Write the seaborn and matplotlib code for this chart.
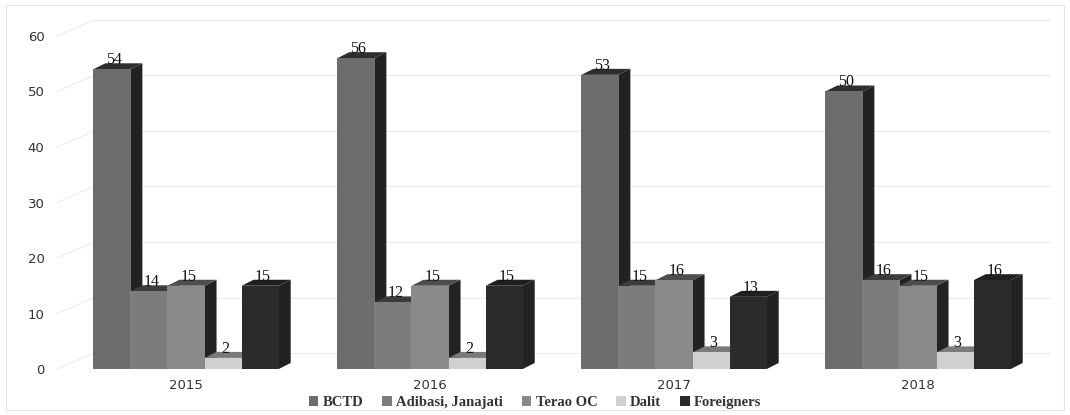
import numpy as np
import pandas as pd
import seaborn as sns
import matplotlib.pyplot as plt
from matplotlib.patches import Polygon, Rectangle

years = ['2015', '2016', '2017', '2018']
groups = ['BCTD', 'Adibasi, Janajati', 'Terao OC', 'Dalit', 'Foreigners']
bctd = [54, 56, 53, 50]
adibasi = [14, 12, 15, 16]
terao = [15, 15, 16, 15]
dalit = [2, 2, 3, 3]
foreigners = [15, 15, 13, 16]

front_colors = ['#6d6d6f', '#7c7c7e', '#898a8c', '#d0d0d0', '#2b2b2d']
top_colors = ['#2e2e2e', '#3c3c3c', '#4e4e4e', '#7a7a7a', '#1f1f1f']
side_color = '#222222'

# figure geometry (pixels)
FW, FH = 1070, 415
AX_L, AX_R, AX_B, AX_T = 64, 1040, 46, 379
px_x = (AX_R - AX_L) / 4.0     # pixels per category unit
px_y = (AX_T - AX_B) / 60.0    # pixels per value unit
depth_dx, depth_dy = 12 / px_x, 6 / px_y      # bar depth
wall_dx, wall_dy = 30 / px_x, 16 / px_y       # back wall offset

sns.set_theme(style='white')

values = [bctd, adibasi, terao, dalit, foreigners]
df = pd.DataFrame({
    'year': np.tile(years, len(groups)),
    'group': np.repeat(groups, len(years)),
    'value': np.concatenate(values),
})

fig = plt.figure(figsize=(FW / 100, FH / 100), dpi=100)
ax = fig.add_axes([AX_L / FW, AX_B / FH, (AX_R - AX_L) / FW, (AX_T - AX_B) / FH])

sns.barplot(data=df, x='year', y='value', hue='group', hue_order=groups, order=years,
            palette=front_colors, saturation=1, width=0.76, gap=0, ax=ax, linewidth=0)

ax.set_xlim(-0.5, 3.5)
ax.set_ylim(0, 60)

# back-wall gridlines
for t in range(0, 61, 10):
    ax.plot([-0.5 - 7 / px_x, -0.5 + wall_dx], [t, t + wall_dy], color='#ececec', lw=0.8,
            clip_on=False, zorder=0)
    ax.plot([-0.5 + wall_dx, 3.5 + 10 / px_x], [t + wall_dy, t + wall_dy], color='#ececec',
            lw=0.8, clip_on=False, zorder=0)

# fake 3D faces built from the seaborn bars
bars = []
for gi, cont in enumerate(ax.containers):
    for p in cont.patches:
        bars.append((p.get_x(), gi, p))
bars.sort(key=lambda b: b[0])
for rank, (x0, gi, p) in enumerate(bars):
    w, h = p.get_width(), p.get_height()
    x1 = x0 + w
    base = 2 + rank * 3
    side = Polygon([(x1, 0), (x1, h), (x1 + depth_dx, h + depth_dy), (x1 + depth_dx, depth_dy)],
                   closed=True, facecolor=side_color, edgecolor='none', zorder=base, clip_on=False)
    top = Polygon([(x0, h), (x1, h), (x1 + depth_dx, h + depth_dy), (x0 + depth_dx, h + depth_dy)],
                  closed=True, facecolor=top_colors[gi], edgecolor='none', zorder=base + 1,
                  clip_on=False)
    ax.add_patch(side)
    ax.add_patch(top)
    p.set_zorder(base + 2)
    ax.text(x0 + w / 2 + depth_dx * 0.2, h + depth_dy * 0.85, f'{int(round(h))}', ha='center',
            va='baseline', fontsize=11.5, family='Liberation Serif', color='#111111', zorder=500)

sns.despine(ax=ax, left=True, bottom=True)
ax.set_xlabel('')
ax.set_ylabel('')
ax.set_yticks(range(0, 61, 10))
ax.tick_params(axis='y', length=0, pad=14, labelsize=9.5, labelcolor='#333333')
ax.tick_params(axis='x', length=0, pad=7, labelsize=9.5, labelcolor='#333333')

sns.move_legend(ax, 'center', bbox_to_anchor=(0.5, 0.03), bbox_transform=fig.transFigure,
                ncol=5, frameon=False, title=None, handlelength=0.65, handleheight=0.65,
                handletextpad=0.3, columnspacing=1.3,
                prop={'family': 'Liberation Serif', 'weight': 'bold', 'size': 10.5})
for t in ax.get_legend().get_texts():
    t.set_color('#333333')

fig.patches.append(Rectangle((0.006, 0.012), 0.988, 0.976, transform=fig.transFigure,
                             fill=False, edgecolor='#e4e4e4', lw=0.8))

fig.savefig('out.png', dpi=100)
